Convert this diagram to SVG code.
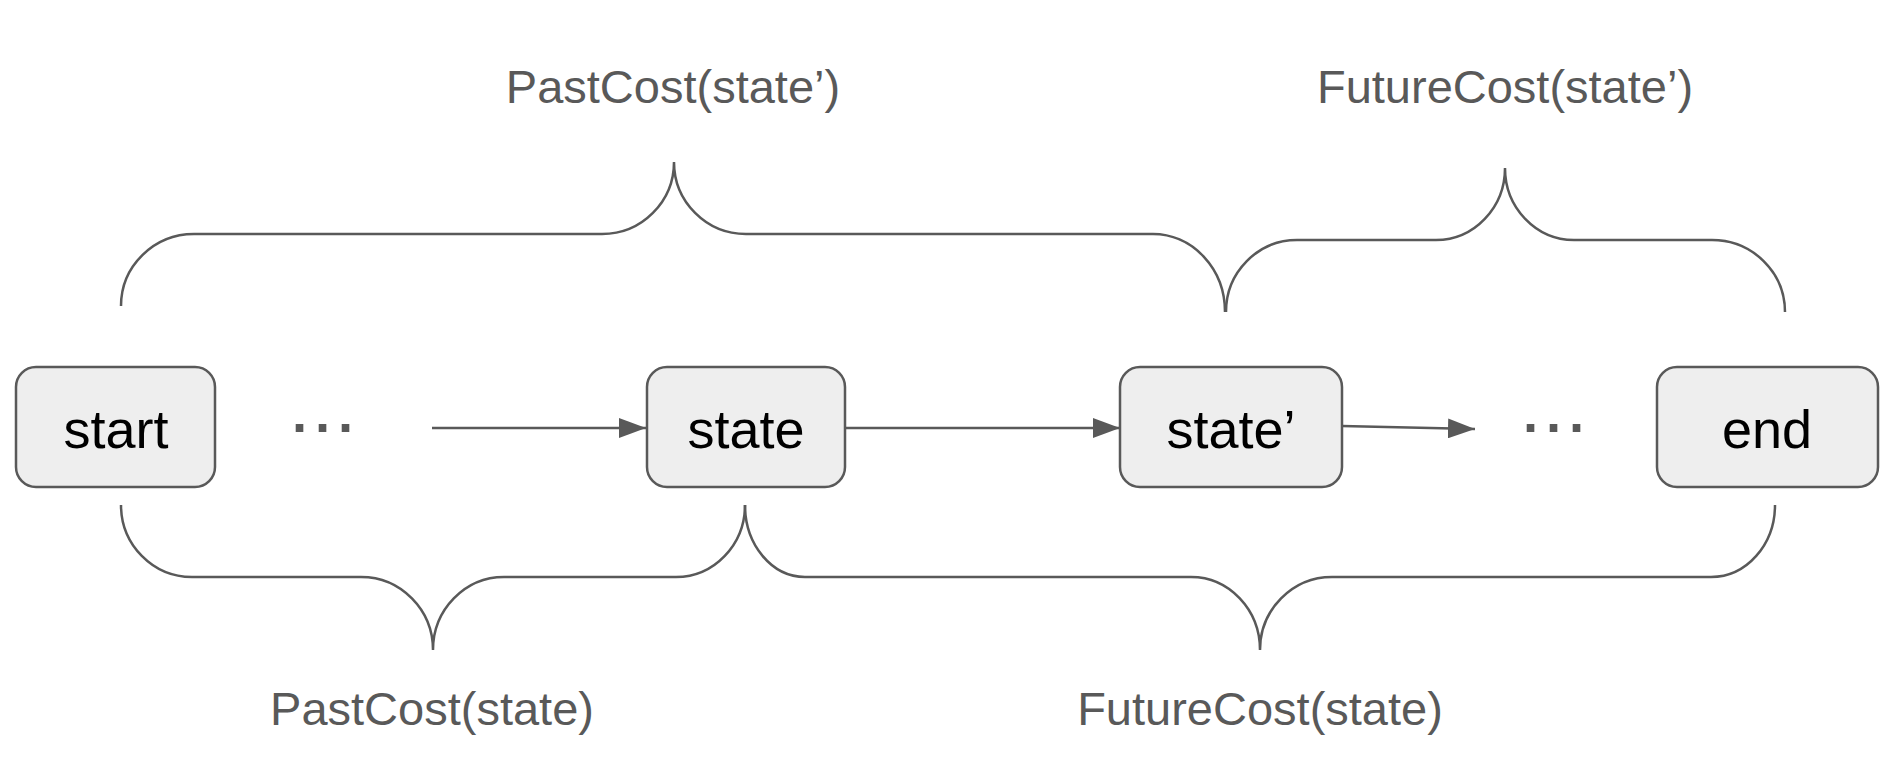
<svg xmlns="http://www.w3.org/2000/svg" width="1902" height="774" viewBox="0 0 1902 774">
<defs>
<style>
.box{fill:#eeeeee;stroke:#595959;stroke-width:2.5}
.bt{font-family:"Liberation Sans",Arial,sans-serif;font-size:54px;fill:#000;text-anchor:middle}
.lbl{font-family:"Liberation Sans",Arial,sans-serif;font-size:47px;fill:#595959;text-anchor:middle}
.dots{font-family:"Liberation Sans",Arial,sans-serif;font-size:54px;font-weight:bold;fill:#595959;letter-spacing:5px}
.brace{fill:none;stroke:#595959;stroke-width:2.5}
.arr{fill:none;stroke:#595959;stroke-width:2.5;marker-end:url(#ah)}
</style>
<marker id="ah" markerUnits="userSpaceOnUse" markerWidth="28" markerHeight="20" refX="27" refY="10" orient="auto">
<path d="M0,0 L27,10 L0,20 Z" fill="#595959"/>
</marker>
</defs>
<rect width="1902" height="774" fill="#ffffff"/>
<g id="connectors">
<path class="arr" d="M432,428 H646"/>
<path class="arr" d="M846,428 H1120"/>
<path class="arr" d="M1342,426 L1475,429"/>
</g>
<g id="braces">
<path class="brace" d="M121,306 A73,72 0 0 1 194,234 H602 A72,72 0 0 0 674,162 A72,72 0 0 0 746,234 H1153 A72,78 0 0 1 1225,312"/>
<path class="brace" d="M1226,312 A71,72 0 0 1 1297,240 H1436 A69,72 0 0 0 1505,168 A69,72 0 0 0 1574,240 H1712 A73,72 0 0 1 1785,312"/>
<path class="brace" d="M121,505 A71,72 0 0 0 192,577 H361 A72,73 0 0 1 433,650 A71,73 0 0 1 504,577 H676 A69,72 0 0 0 745,505"/>
<path class="brace" d="M745,505 A60,72 0 0 0 805,577 H1191 A69,73 0 0 1 1260,650 A72,73 0 0 1 1332,577 H1711 A64,72 0 0 0 1775,505"/>
</g>
<g id="node-start">
<rect class="box" x="16" y="367" width="199" height="120" rx="20"/>
<text class="bt" x="116" y="448">start</text>
</g>
<g id="dots-1">
<text class="dots" x="292" y="446">···</text>
</g>
<g id="node-state">
<rect class="box" x="647" y="367" width="198" height="120" rx="20"/>
<text class="bt" x="746" y="448">state</text>
</g>
<g id="node-state-prime">
<rect class="box" x="1120" y="367" width="222" height="120" rx="20"/>
<text class="bt" x="1231" y="448">state’</text>
</g>
<g id="dots-2">
<text class="dots" x="1523" y="446">···</text>
</g>
<g id="node-end">
<rect class="box" x="1657" y="367" width="221" height="120" rx="20"/>
<text class="bt" x="1767" y="448">end</text>
</g>
<g id="labels">
<text class="lbl" x="673" y="103">PastCost(state’)</text>
<text class="lbl" x="1505" y="103">FutureCost(state’)</text>
<text class="lbl" x="432" y="725">PastCost(state)</text>
<text class="lbl" x="1260" y="725">FutureCost(state)</text>
</g>
</svg>
